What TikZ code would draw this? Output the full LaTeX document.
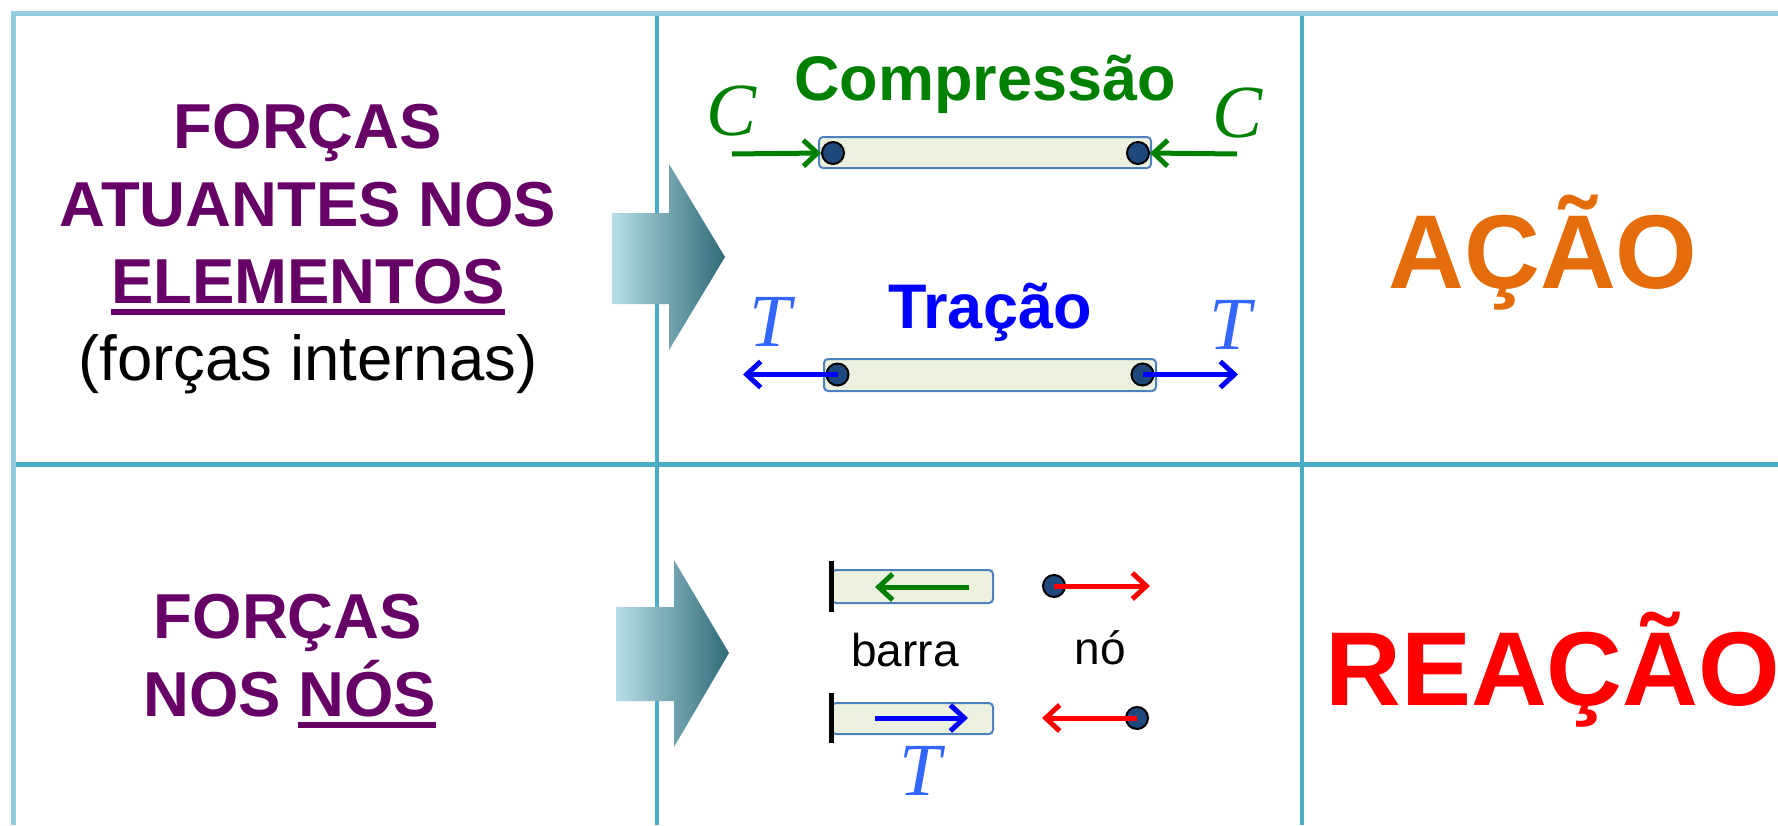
\documentclass[tikz,border=0pt]{standalone}
\usepackage{fontspec}
\setmainfont{Liberation Sans}
\newfontfamily\lserif{Liberation Serif}
\usetikzlibrary{arrows.meta}
\definecolor{frameA}{HTML}{93CDDD}
\definecolor{frameB}{HTML}{4BACC6}
\definecolor{purp}{HTML}{660066}
\definecolor{grn}{HTML}{008000}
\definecolor{blu}{HTML}{0000FF}
\definecolor{tblu}{HTML}{3366FF}
\definecolor{orng}{HTML}{E46C0A}
\definecolor{barfill}{HTML}{EBF1DE}
\definecolor{barline}{HTML}{4F81BD}
\definecolor{jointfill}{HTML}{1F497D}
\definecolor{arrL}{HTML}{B7DEE8}
\definecolor{arrR}{HTML}{2F6B78}
\tikzset{
  outerline/.style={draw=frameA, line width=5.5pt},
  innerline/.style={draw=frameB, line width=4.5pt},
  ptxt/.style={text=purp, font=\bfseries\fontsize{63.5}{76}\selectfont, anchor=base, inner sep=0pt},
  ntxt/.style={text=black, font=\fontsize{63.5}{76}\selectfont, anchor=base, inner sep=0pt},
  hd/.style={font=\bfseries\fontsize{63}{75}\selectfont, anchor=base, inner sep=0pt},
  big/.style={font=\bfseries\fontsize{105}{120}\selectfont, anchor=base, inner sep=0pt},
  sym/.style={font=\lserif\itshape\fontsize{75}{90}\selectfont, anchor=base, inner sep=0pt},
  small/.style={text=black, font=\fontsize{46}{55}\selectfont, anchor=base, inner sep=0pt},
  bar/.style={draw=barline, fill=barfill, line width=2pt, rounded corners=4pt, inner sep=0pt},
  joint/.style={circle, draw=black, fill=jointfill, line width=2pt, minimum size=22pt, inner sep=0pt},
  farrow/.style={line width=5pt, -{Straight Barb[length=14pt,width=26pt]}},
  wall/.style={draw=black, line width=5pt},
  blockarrow/.style={left color=arrL, right color=arrR, draw=none},
  uline/.style={draw=purp, line width=6pt}
}
\begin{document}
\begin{tikzpicture}[x=1pt,y=-1pt]
\useasboundingbox (0,0) rectangle (1778,825);
\clip (0,0) rectangle (1778,825);
\fill[white] (0,0) rectangle (1778,825);

% grid
\draw[innerline] (13.5,464.5) -- (1778,464.5);
\draw[innerline] (657,13.5) -- (657,825);
\draw[innerline] (1302,13.5) -- (1302,825);
\draw[outerline] (11,13.5) -- (1778,13.5);
\draw[outerline] (13.5,11) -- (13.5,825);

% left texts, top
\node[ptxt] (f1) at (308,148) {FORÇAS};
\node[ptxt] (f2) at (308,226) {ATUANTES NOS};
\node[ptxt] (f3) at (308,303) {ELEMENTOS};
\draw[uline] ([yshift=-9pt]f3.base west) -- ([yshift=-9pt]f3.base east);
\node[ntxt] (f4) at (308,380) {(forças internas)};

% left texts, bottom
\node[ptxt] (g1) at (288,638) {FORÇAS};
\node[ptxt, anchor=base west] (g2) at (143,716) {NOS};
\node[ptxt, anchor=base west] (g3) at (298,716) {NÓS};
\draw[uline] ([yshift=-9pt]g3.base west) -- ([yshift=-9pt]g3.base east);

% block arrows
\path[blockarrow] (612,213) -- (669,213) -- (669,164) -- (725,257) -- (669,350) -- (669,304) -- (612,304) -- cycle;
\path[blockarrow] (616,607) -- (674,607) -- (674,560) -- (729,653) -- (674,747) -- (674,701) -- (616,701) -- cycle;

% compressao
\node[hd, text=grn] (comp) at (985,100) {Compressão};
\node[sym, text=grn] (cl) at (732,135) {C};
\node[sym, text=grn] (cr) at (1237,137) {C};
\node[bar, minimum width=332pt, minimum height=31pt] (b1) at (985,152.5) {};
\node[joint] (j1) at (833,153) {};
\node[joint] (j2) at (1138,153) {};
\coordinate (c1s) at (732,154);
\coordinate (c2s) at (1237,154);
\draw[farrow, grn] (c1s) -- (j1.west);
\draw[farrow, grn] (c2s) -- (j2.east);

% tracao
\node[hd, text=blu] (trac) at (990,328) {Tração};
\node[sym, text=tblu] (tl) at (770,346) {T};
\node[sym, text=tblu] (tr) at (1230,349) {T};
\node[bar, minimum width=332pt, minimum height=32pt] (b2) at (990,375) {};
\node[joint] (j3) at (837.5,374.5) {};
\node[joint] (j4) at (1142.5,374.5) {};
\coordinate (t1e) at (743,374.5);
\coordinate (t2e) at (1238,374.5);
\draw[farrow, blu] (j3.center) -- (t1e);
\draw[farrow, blu] (j4.center) -- (t2e);

% acao / reacao
\node[big, text=orng] (acao) at (1543,288) {AÇÃO};
\node[big, text=red, anchor=base west] (reacao) at (1325,705) {REAÇÃO};

% bottom middle: barra / no
\node[bar, minimum width=161pt, minimum height=33pt] (bb1) at (912.5,586.5) {};
\node[bar, minimum width=161pt, minimum height=31pt] (bb2) at (912.5,718.5) {};
\coordinate (w1a) at (831,561);
\coordinate (w1b) at (831,612);
\coordinate (w2a) at (831,693);
\coordinate (w2b) at (831,743);
\draw[wall] (w1a) -- (w1b);
\draw[wall] (w2a) -- (w2b);
\coordinate (ga) at (969,587);
\coordinate (gb) at (875,587);
\draw[farrow, grn] (ga) -- (gb);
\coordinate (ba) at (875,718);
\coordinate (bb) at (968,718);
\draw[farrow, blu] (ba) -- (bb);
\node[small] (barra) at (905,666) {barra};
\node[small] (no) at (1100,664) {nó};
\node[joint] (n1) at (1054,586) {};
\node[joint] (n2) at (1137,718) {};
\coordinate (n1e) at (1150,586);
\coordinate (n2e) at (1042,718);
\draw[farrow, red] (n1.center) -- (n1e);
\draw[farrow, red] (n2.center) -- (n2e);
\node[sym, text=tblu] (tb) at (920,795) {T};
\end{tikzpicture}
\end{document}
